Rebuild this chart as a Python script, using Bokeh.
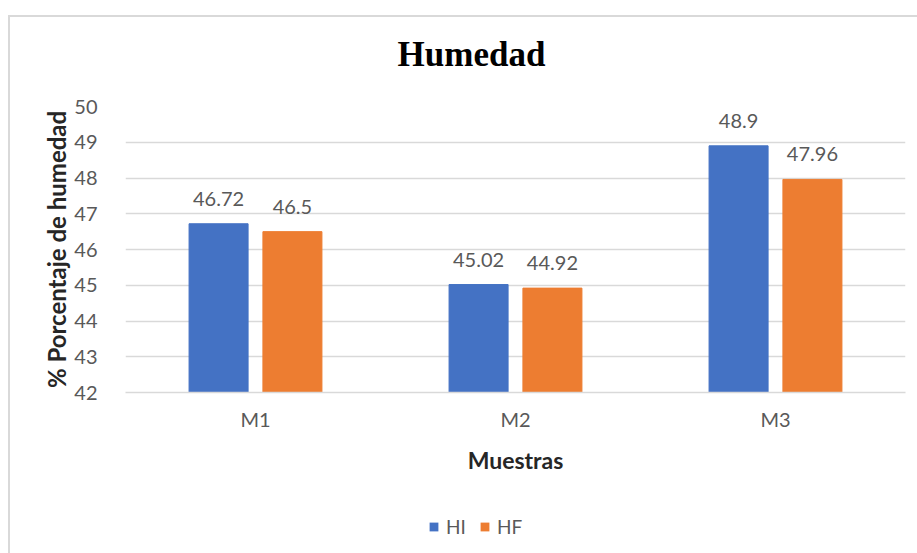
from bokeh.plotting import figure
from bokeh.layouts import column
from bokeh.models import (ColumnDataSource, FactorRange, Range1d, LabelSet, Label,
                          Legend, LegendItem, FixedTicker)
from bokeh.core.properties import value
from bokeh.transform import dodge
from bokeh.embed import file_html
from bokeh.resources import INLINE

categories = ["M1", "M2", "M3"]
hi_values = [46.72, 45.02, 48.9]
hf_values = [46.5, 44.92, 47.96]
hi_text = ["46.72", "45.02", "48.9"]
hf_text = ["46.5", "44.92", "47.96"]
series_names = ["HI", "HF"]
y_ticks = [42, 43, 44, 45, 46, 47, 48, 49, 50]

BLUE = "#4472C4"
ORANGE = "#ED7D31"
GRID = "#d9d9d9"
TICK = "#595959"
FONT = "Lato"
W = 917
H_TITLE, H_MAIN, H_LEG = 80, 415, 58
FRAME_L, FRAME_R = 125, 905

line_v = "linear-gradient(#d9d9d9,#d9d9d9) 8px 0px / 2px 100% no-repeat"
line_top = ("linear-gradient(#d9d9d9,#d9d9d9) 8px 15px / 2px 100% no-repeat, "
            "linear-gradient(#d9d9d9,#d9d9d9) 8px 15px / 100% 2px no-repeat")

src = ColumnDataSource(dict(cat=categories, hi=hi_values, hf=hf_values,
                            hi_t=hi_text, hf_t=hf_text))


def bare(height, bg):
    f = figure(width=W, height=height, x_range=Range1d(FRAME_L, FRAME_R),
               y_range=Range1d(0, height),
               x_axis_location=None, y_axis_location=None,
               output_backend="svg", toolbar_location=None,
               min_border_left=FRAME_L, min_border_right=W - FRAME_R,
               min_border_top=0, min_border_bottom=0,
               styles={"background": bg})
    f.grid.visible = False
    f.outline_line_color = None
    f.background_fill_alpha = 0
    f.border_fill_alpha = 0
    return f


# ---- title strip
p_title = bare(H_TITLE, line_top)
p_title.add_layout(Label(x=471, y=0, y_offset=26, text="Humedad", text_align="center",
                         text_baseline="alphabetic", text_font="Liberation Serif",
                         text_font_size="35px", text_font_style="bold",
                         text_color="black"))

# ---- main chart
p = figure(x_range=FactorRange(*categories, range_padding=0),
           y_range=Range1d(42, 50),
           width=W, height=H_MAIN,
           output_backend="svg", toolbar_location=None,
           min_border_left=FRAME_L, min_border_right=W - FRAME_R,
           min_border_top=26, min_border_bottom=103,
           styles={"background": line_v})
p.outline_line_color = None
p.background_fill_color = "white"
p.border_fill_alpha = 0

p.vbar(x=dodge("cat", -0.142, range=p.x_range), top="hi", bottom=42,
       width=0.227, source=src, fill_color=BLUE, line_color=BLUE)
p.vbar(x=dodge("cat", 0.142, range=p.x_range), top="hf", bottom=42,
       width=0.227, source=src, fill_color=ORANGE, line_color=ORANGE)

for col, txt, off in (("hi", "hi_t", -0.142), ("hf", "hf_t", 0.142)):
    p.add_layout(LabelSet(x=dodge("cat", off, range=p.x_range), y=col, text=txt,
                          source=src, text_align="center", text_baseline="bottom",
                          y_offset=18, text_font=value(FONT),
                          text_font_size=value("20px"), text_color=TICK))

p.yaxis.ticker = FixedTicker(ticks=y_ticks)
p.ygrid.grid_line_color = GRID
p.ygrid.grid_line_width = 1.5
p.xgrid.grid_line_color = None
p.yaxis.axis_line_color = None
p.yaxis.major_tick_line_color = None
p.yaxis.minor_tick_line_color = None
p.yaxis.major_label_standoff = 22
p.yaxis.major_label_text_font = FONT
p.yaxis.major_label_text_font_size = "20px"
p.yaxis.major_label_text_color = TICK
p.yaxis.axis_label = "% Porcentaje de humedad"
p.yaxis.axis_label_text_font = FONT
p.yaxis.axis_label_text_font_size = "24px"
p.yaxis.axis_label_text_font_style = "bold"
p.yaxis.axis_label_text_color = "#262626"
p.yaxis.axis_label_standoff = 0

p.xaxis.axis_line_color = GRID
p.xaxis.axis_line_width = 1.5
p.xaxis.major_tick_line_color = None
p.xaxis.minor_tick_line_color = None
p.xaxis.major_label_standoff = 8
p.xaxis.major_label_text_font = FONT
p.xaxis.major_label_text_font_size = "20px"
p.xaxis.major_label_text_color = TICK
p.xaxis.axis_label = "Muestras"
p.xaxis.axis_label_text_font = FONT
p.xaxis.axis_label_text_font_size = "23px"
p.xaxis.axis_label_text_font_style = "bold"
p.xaxis.axis_label_text_color = "#262626"
p.xaxis.axis_label_standoff = 12

# ---- legend strip (swatch renderers have no area and no outline, so nothing shows)
p_leg = bare(H_LEG, line_v)
sw_hi = p_leg.vbar(x="hi", top="hi", bottom="hi", width=0, source=src,
                   fill_color=BLUE, line_color=None)
sw_hf = p_leg.vbar(x="hf", top="hf", bottom="hf", width=0, source=src,
                   fill_color=ORANGE, line_color=None)
legend = Legend(items=[LegendItem(label=series_names[0], renderers=[sw_hi]),
                       LegendItem(label=series_names[1], renderers=[sw_hf])],
                orientation="horizontal", location=(428 - FRAME_L, 15),
                glyph_width=11, glyph_height=11, label_standoff=7, spacing=13,
                padding=0, margin=0, border_line_color=None,
                background_fill_alpha=0,
                label_text_font=FONT, label_text_font_size="19px",
                label_text_color=TICK)
p_leg.add_layout(legend, "center")

layout = column(p_title, p, p_leg, spacing=0)
open("out.html", "w").write(file_html(layout, INLINE))
